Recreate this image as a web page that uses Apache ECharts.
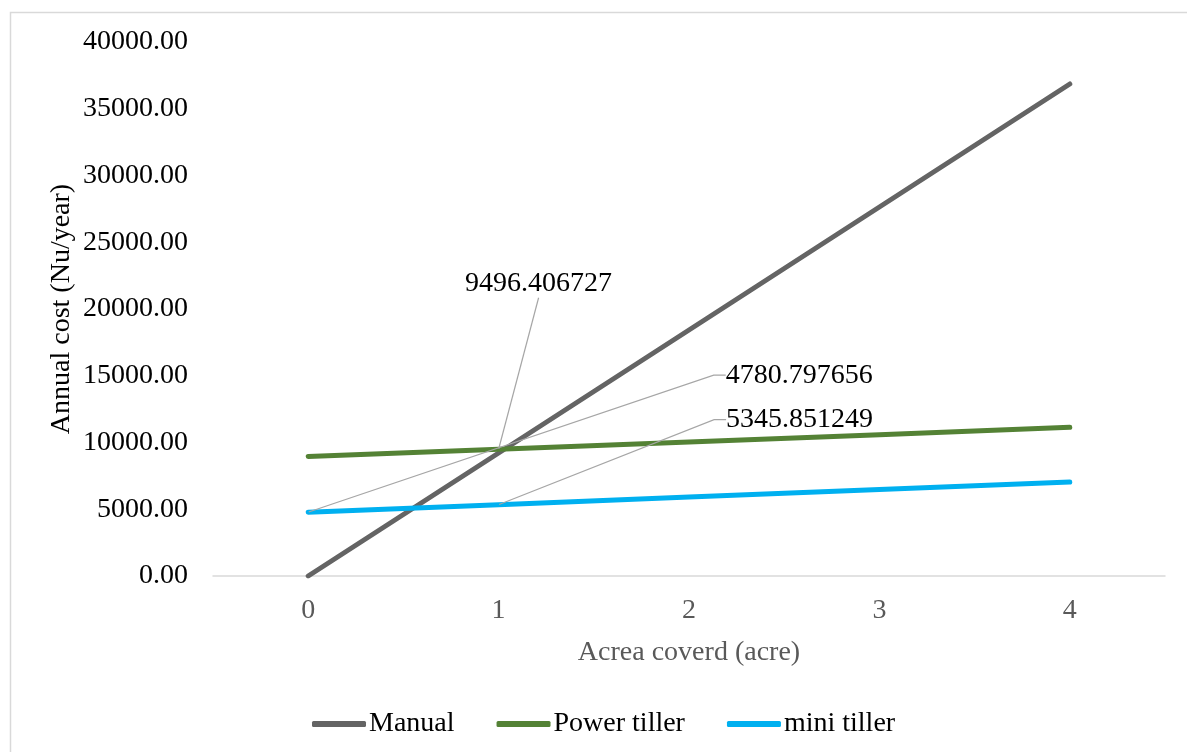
<!DOCTYPE html>
<html>
<head>
<meta charset="utf-8">
<title>Annual cost vs area covered</title>
<script src="https://cdn.jsdelivr.net/npm/echarts@6/dist/echarts.min.js"></script>
<style>
  html, body { margin: 0; padding: 0; background: #ffffff; }
  #chart { width: 1187px; height: 752px; }
</style>
</head>
<body>
<div id="chart"></div>
<script>
// Area covered (acre)
const categories = ['0', '1', '2', '3', '4'];
// Annual cost (Nu/year) per method
const manual = [0, 9214, 18427, 27641, 36854];
const powerTiller = [8950, 9496.406727, 10043, 10589, 11135];
const miniTiller = [4780.797656, 5345.851249, 5911, 6476, 7041];
// Y axis range
const yMin = 0, yMax = 40000, yStep = 5000;

const FONT = '"Liberation Serif", "Times New Roman", serif';

// Value callouts: which point, where the text sits relative to it
const callouts = {
  'Power tiller': { 1: { position: 'top', align: 'center', dx: 40, dy: -160, length2: 0 } },
  'mini tiller': {
    0: { position: 'right', align: 'left', dx: 404, dy: -137, length2: 12 },
    1: { position: 'right', align: 'left', dx: 214, dy: -85, length2: 12 }
  }
};

function withCallouts(name, values) {
  const spec = callouts[name] || {};
  return values.map((v, i) => {
    const c = spec[i];
    if (!c) return v;
    return {
      value: v,
      label: {
        show: true,
        position: c.position,
        align: c.align,
        verticalAlign: 'middle',
        padding: c.position === 'right' ? [0, 0, 0, 8] : 0,
        formatter: (p) => String(p.value),
        fontFamily: FONT,
        fontSize: 28,
        color: '#000000'
      },
      labelLine: {
        show: true,
        length2: c.length2,
        lineStyle: { color: '#a6a6a6', width: 1.2 }
      }
    };
  });
}

function layoutFor(name) {
  const spec = callouts[name] || {};
  return function (params) {
    const c = spec[params.dataIndex];
    if (!c) return {};
    return { dx: c.dx, dy: c.dy };
  };
}

function lineSeries(name, values, color) {
  return {
    name: name,
    type: 'line',
    data: withCallouts(name, values),
    symbol: 'circle',
    symbolSize: 1,
    showSymbol: true,
    itemStyle: { color: color },
    lineStyle: { color: color, width: 5, cap: 'round', join: 'round' },
    label: { show: false },
    labelLayout: layoutFor(name),
    emphasis: { disabled: true },
    animation: false
  };
}

const chart = echarts.init(document.getElementById('chart'), null, { renderer: 'canvas' });

chart.setOption({
  backgroundColor: '#ffffff',
  animation: false,
  textStyle: { fontFamily: FONT },
  graphic: [{
    type: 'rect',
    silent: true,
    shape: { x: 10.5, y: 12.5, width: 1400, height: 1000 },
    style: { fill: 'none', stroke: '#d9d9d9', lineWidth: 1.5 },
    z: -10
  }],
  grid: { left: 213, right: 22, top: 42, bottom: 176, containLabel: false },
  legend: {
    left: 307,
    top: 705,
    icon: 'roundRect',
    itemWidth: 54,
    itemHeight: 6,
    itemGap: 42,
    textStyle: { fontFamily: FONT, fontSize: 28, color: '#000000', padding: [0, 0, 0, -2] },
    data: ['Manual', 'Power tiller', 'mini tiller']
  },
  xAxis: {
    type: 'category',
    data: categories,
    boundaryGap: true,
    name: 'Acrea coverd (acre)',
    nameLocation: 'middle',
    nameGap: 63,
    nameTextStyle: { fontFamily: FONT, fontSize: 28, color: '#595959' },
    axisLine: { show: true, lineStyle: { color: '#d9d9d9', width: 1.5 } },
    axisTick: { show: false },
    axisLabel: { fontFamily: FONT, fontSize: 28, color: '#595959', margin: 21 },
    splitLine: { show: false }
  },
  yAxis: {
    type: 'value',
    min: yMin,
    max: yMax,
    interval: yStep,
    name: 'Annual cost (Nu/year)',
    nameLocation: 'middle',
    nameGap: 137,
    nameMoveOverlap: false,
    nameRotate: 90,
    nameTextStyle: { fontFamily: FONT, fontSize: 28, color: '#000000' },
    axisLine: { show: false },
    axisTick: { show: false },
    axisLabel: {
      fontFamily: FONT, fontSize: 28, color: '#000000', margin: 25,
      formatter: (v) => v.toFixed(2)
    },
    splitLine: { show: false }
  },
  series: [
    lineSeries('Manual', manual, '#646464'),
    lineSeries('Power tiller', powerTiller, '#548235'),
    lineSeries('mini tiller', miniTiller, '#00b0f0')
  ]
});
</script>
</body>
</html>
